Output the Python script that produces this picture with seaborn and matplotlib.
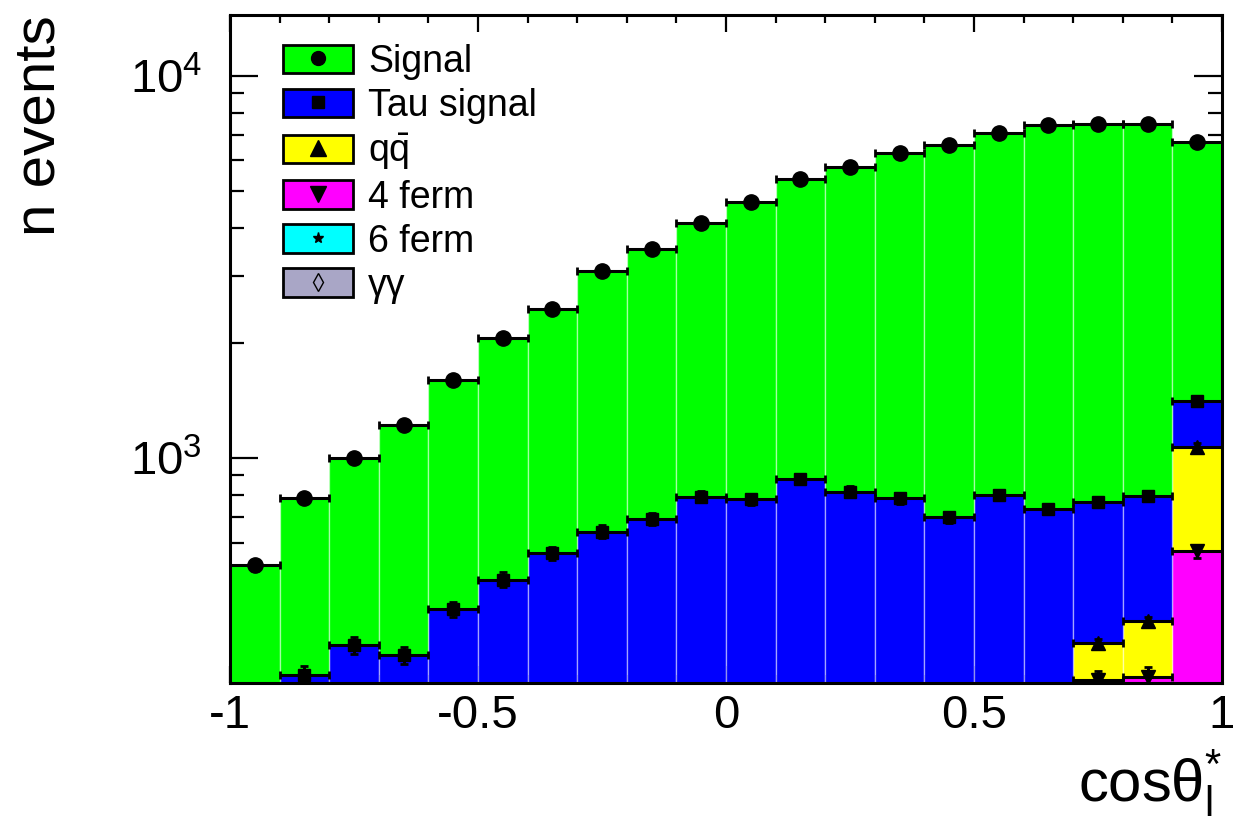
import numpy as np
import pandas as pd
import matplotlib
matplotlib.use("Agg")
import matplotlib.pyplot as plt
import seaborn as sns
from matplotlib.patches import Patch
from matplotlib.lines import Line2D
from matplotlib.legend_handler import HandlerTuple
from matplotlib.ticker import LogLocator, NullFormatter, FixedLocator, FuncFormatter

sns.set_theme(style="ticks")
plt.rcParams['font.family'] = ['Liberation Sans', 'DejaVu Sans']
plt.rcParams['mathtext.fontset'] = 'custom'
plt.rcParams['mathtext.rm'] = 'Liberation Sans'
plt.rcParams['mathtext.it'] = 'Liberation Sans:italic'
plt.rcParams['mathtext.bf'] = 'Liberation Sans:bold'
for k in ['text.color', 'axes.labelcolor', 'xtick.color', 'ytick.color', 'axes.edgecolor']:
    plt.rcParams[k] = 'black'

# ---------------- data ----------------
x_min, x_max, n_bins = -1.0, 1.0, 20

labels = ["Signal", "Tau signal", r"$\mathrm{q\bar{q}}$", "4 ferm", "6 ferm", "γγ"]

signal = [294, 514, 678, 914, 1195, 1583, 1887, 2437, 2831, 3315,
          3880, 4469, 4933, 5485, 5877, 6266, 6678, 6691, 6663, 5300]
tau_signal = [201, 240, 290, 268, 363, 436, 515, 588, 633, 727,
              707, 801, 725, 677, 567, 628, 500, 440, 423, 338]
qqbar = [5, 5, 6, 6, 7, 8, 9, 10, 12, 14,
         16, 18, 20, 25, 30, 40, 50, 67, 106, 500]
four_ferm = [20, 22, 25, 28, 30, 35, 38, 42, 45, 50,
             55, 60, 70, 80, 100, 130, 180, 256, 260, 557]
six_ferm = [1, 1, 1, 1, 1, 1, 1, 1, 1, 1,
            1, 1, 1, 1, 1, 1, 2, 2, 3, 5]
gamma_gamma = [3, 2, 2, 2, 1, 1, 1, 1, 1, 1,
               1, 1, 1, 2, 2, 2, 3, 4, 5, 8]

series = [signal, tau_signal, qqbar, four_ferm, six_ferm, gamma_gamma]
colors = ["#00ff00", "#0000ff", "#ffff00", "#ff00ff", "#00ffff", "#a9a6c6"]
markers = ["o", "s", "^", "v", "*", "d"]
msizes = [11, 9, 10, 10, 11, 9]
leg_msizes = [10, 9, 11, 11, 8, 9]
y_lim = (258, 14400)

# ---------------- figure ----------------
fig = plt.figure(figsize=(12.39, 8.24), dpi=100)
ax = fig.add_axes([230/1239, 1-683/824, 992/1239, 668/824])

edges = np.linspace(x_min, x_max, n_bins + 1)
centers = 0.5 * (edges[:-1] + edges[1:])
half_w = 0.5 * (edges[1] - edges[0])

rows = []
for lab, vals in zip(labels, series):
    for c, v in zip(centers, vals):
        rows.append((c, v, lab))
df = pd.DataFrame(rows, columns=["x", "w", "process"])

sns.histplot(data=df, x="x", weights="w", hue="process", hue_order=labels,
             multiple="stack", bins=n_bins, binrange=(x_min, x_max),
             palette=dict(zip(labels, colors)), alpha=1, element="bars",
             edgecolor=(1, 1, 1, 0.45), linewidth=1.0, legend=False, ax=ax)

ax.set_yscale("log")

# markers at stack tops
cum = np.zeros(n_bins)
tops = {}
for lab, vals in list(zip(labels, series))[::-1]:
    cum = cum + np.asarray(vals, dtype=float)
    tops[lab] = cum.copy()

for lab, vals, m, ms in zip(labels, series, markers, msizes):
    mfc = "none" if m == "d" else "black"
    ax.errorbar(centers, tops[lab], xerr=half_w, yerr=np.sqrt(vals),
                fmt=m, ms=ms, color="black", mfc=mfc, mec="black",
                elinewidth=2.2, capsize=3, capthick=2, zorder=5)

ax.set_xlim(x_min, x_max)
ax.set_ylim(*y_lim)

# ticks
ax.xaxis.set_major_locator(FixedLocator([-1, -0.5, 0, 0.5, 1]))
ax.xaxis.set_minor_locator(FixedLocator(np.round(np.arange(-1, 1.0001, 0.1), 2)))
ax.xaxis.set_major_formatter(FuncFormatter(lambda v, p: f"{v:g}"))
ax.yaxis.set_major_locator(LogLocator(base=10))
ax.yaxis.set_minor_locator(LogLocator(base=10, subs=np.arange(2, 10)))
ax.yaxis.set_minor_formatter(NullFormatter())

ax.tick_params(axis="both", which="both", direction="in", top=True, right=True,
               colors="black", width=1.6)
ax.tick_params(axis="x", which="major", length=12, labelsize=34, pad=8)
ax.tick_params(axis="x", which="minor", length=6)
ax.tick_params(axis="y", which="major", length=20, labelsize=34, pad=20)
ax.tick_params(axis="y", which="minor", length=10)

for sp in ax.spines.values():
    sp.set_linewidth(2.2)
    sp.set_color("black")
    sp.set_visible(True)

# axis labels
ax.set_ylabel("n events", fontsize=42, loc="top", color="black")
ax.yaxis.set_label_coords((67 - 230) / 992, 1.0)
ax.set_xlabel(r"cosθ$_{\mathregular{l}}^{\mathregular{*}}$", fontsize=43, loc="right",
              color="black")
ax.xaxis.set_label_coords((1222 - 230) / 992, (683 - 748) / 668)

# legend
handles = []
for c, m, ms in zip(colors, markers, leg_msizes):
    p = Patch(facecolor=c, edgecolor="black", linewidth=2)
    mfc = "none" if m == "d" else "black"
    l = Line2D([], [], marker=m, ls="none", color="black", mfc=mfc, mec="black", ms=ms)
    handles.append((p, l))
fig.legend(handles, labels, handler_map={tuple: HandlerTuple(ndivide=1)},
           loc="upper left", bbox_to_anchor=(283 / 1239, 1 - 44 / 824),
           frameon=False, fontsize=27, handlelength=1.87, handleheight=0.8,
           handletextpad=0.4, labelspacing=0.21, borderpad=0, borderaxespad=0,
           labelcolor="black")

fig.savefig("out.png", dpi=100)
